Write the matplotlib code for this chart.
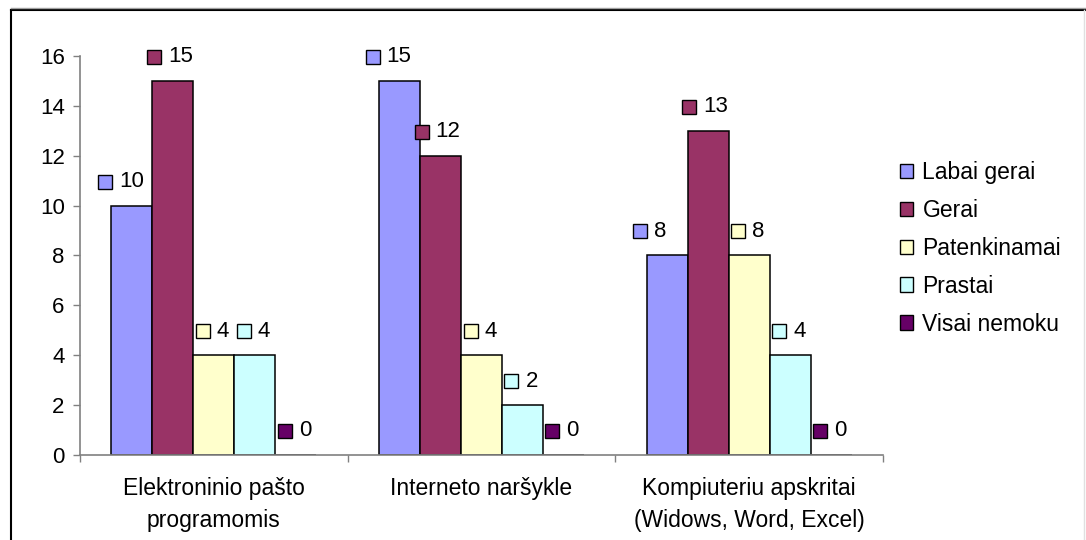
import matplotlib
matplotlib.use("Agg")
import matplotlib.pyplot as plt
import matplotlib.transforms as mtransforms
from matplotlib.patches import Patch
from matplotlib.lines import Line2D
import numpy as np

plt.rcParams["font.family"] = ["Liberation Sans", "DejaVu Sans"]

# ---- data ----
categories = ["Elektroninio pašto\nprogramomis",
              "Interneto naršykle",
              "Kompiuteriu apskritai\n(Widows, Word, Excel)"]
series_names = ["Labai gerai", "Gerai", "Patenkinamai", "Prastai", "Visai nemoku"]
labai_gerai = [10, 15, 8]
gerai = [15, 12, 13]
patenkinamai = [4, 4, 8]
prastai = [4, 2, 4]
visai_nemoku = [0, 0, 0]
y_ticks = [0, 2, 4, 6, 8, 10, 12, 14, 16]

series_values = [labai_gerai, gerai, patenkinamai, prastai, visai_nemoku]
colors = ["#9999FF", "#993366", "#FFFFCC", "#CCFFFF", "#660066"]

FS = 16
FS_CAT = 16.5
FS_LEG = 16.5
W, H = 1086, 540
fig = plt.figure(figsize=(W / 100, H / 100), dpi=100)
ax = fig.add_axes([80 / W, 1 - 455 / H, 803 / W, 399 / H])

x = np.arange(len(categories))
bar_w = 0.153
for i, (vals, col) in enumerate(zip(series_values, colors)):
    xs = x + (i - 2) * bar_w
    ax.bar(xs, vals, width=bar_w, color=col, edgecolor="black",
           linewidth=1.1, zorder=2)
    # value labels: small coloured square followed by the number
    dx_marker = [-27, -19, -11, -11, -11][i]
    mk_tr = mtransforms.offset_copy(ax.transData, fig=fig, x=dx_marker, y=24, units="dots")
    tx_tr = mtransforms.offset_copy(ax.transData, fig=fig, x=dx_marker + 14, y=24, units="dots")
    for xv, v in zip(xs, vals):
        ax.plot([xv], [v], marker="s", markersize=9.4, markerfacecolor=col,
                markeredgecolor="black", markeredgewidth=1.0, transform=mk_tr,
                clip_on=False, zorder=3, linestyle="none")
        ax.text(xv, v, f"{v}", transform=tx_tr, ha="left", va="center",
                fontsize=FS, clip_on=False, zorder=3)

ax.set_xlim(-0.5, len(categories) - 0.5)
ax.set_ylim(0, 16)
ax.set_yticks(y_ticks)
ax.tick_params(axis="y", labelsize=FS, length=5, width=1, color="#808080",
               direction="out", pad=6)

# category labels at group centres, tick marks at group boundaries
ax.set_xticks(x)
ax.set_xticklabels(categories, fontsize=FS_CAT, linespacing=1.5)
ax.tick_params(axis="x", which="major", length=0, pad=16)
ax.set_xticks(np.arange(len(categories) + 1) - 0.5, minor=True)
ax.tick_params(axis="x", which="minor", length=5, width=1, color="#808080",
               direction="out")

for s in ("top", "right"):
    ax.spines[s].set_visible(False)
for s in ("left", "bottom"):
    ax.spines[s].set_color("#808080")
    ax.spines[s].set_linewidth(1.2)

handles = [Patch(facecolor=c, edgecolor="black", linewidth=1.0) for c in colors]
fig.legend(handles, series_names, loc="upper left",
           bbox_to_anchor=(900 / W, 1 - 161 / H), frameon=False,
           fontsize=FS_LEG, handlelength=0.58, handleheight=0.58,
           handletextpad=0.4, labelspacing=0.65, borderpad=0,
           borderaxespad=0)

# chart frame
fig.add_artist(Line2D([11 / W, 11 / W], [0, 1 - 10 / H], transform=fig.transFigure,
                      color="black", linewidth=1.5))
fig.add_artist(Line2D([11 / W, 1], [1 - 10 / H, 1 - 10 / H], transform=fig.transFigure,
                      color="black", linewidth=1.5))
fig.add_artist(Line2D([11 / W, 1], [1 - 8 / H, 1 - 8 / H], transform=fig.transFigure,
                      color="#A0A0A0", linewidth=1.0))
fig.add_artist(Line2D([1084 / W, 1084 / W], [0, 1 - 10 / H], transform=fig.transFigure,
                      color="#E0E0E0", linewidth=1.0))

fig.savefig("out.png", dpi=100)
